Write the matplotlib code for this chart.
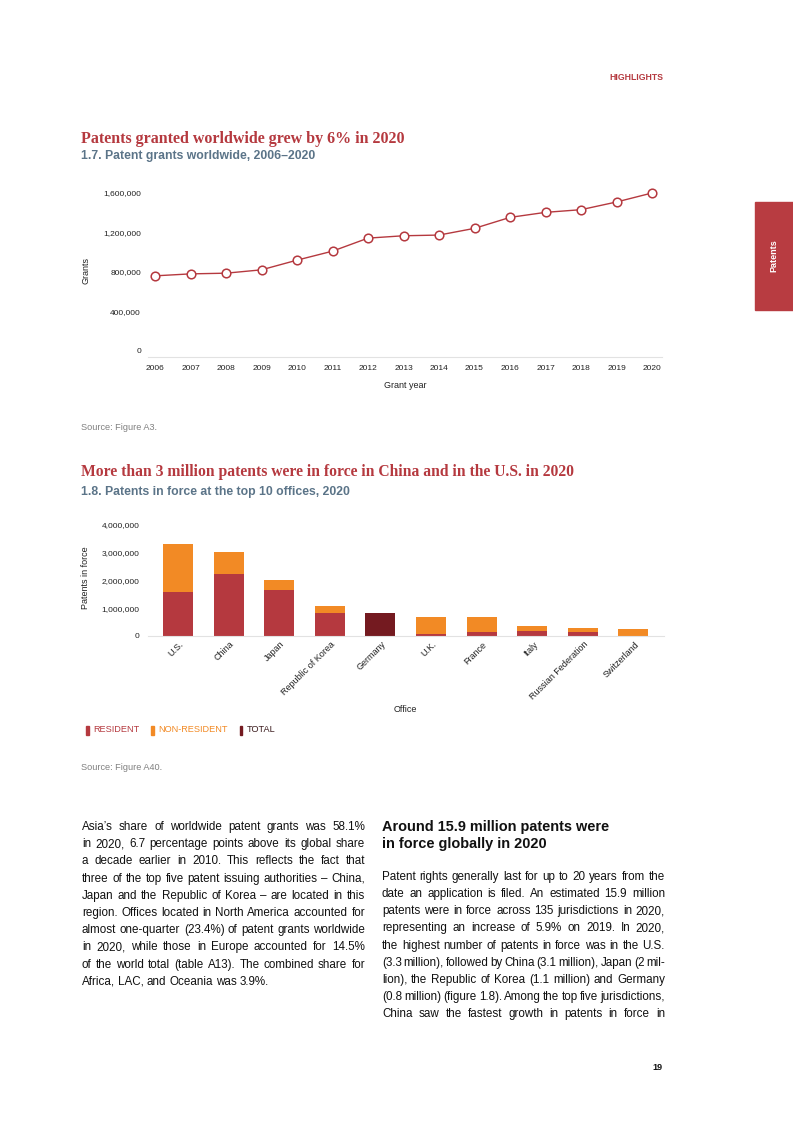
import matplotlib
matplotlib.use('Agg')
import matplotlib.pyplot as plt
from matplotlib.patches import Rectangle
from matplotlib.ticker import FuncFormatter
from matplotlib.transforms import ScaledTranslation

# ---------------- data ----------------
years = list(range(2006, 2021))
grants = [761000, 781000, 788000, 822000, 920000, 1011000, 1143000, 1167000,
          1174000, 1242000, 1353000, 1404000, 1431000, 1509000, 1600000]
line_ticks = [0, 400000, 800000, 1200000, 1600000]

offices = ["U.S.", "China", "Japan", "Republic of Korea", "Germany", "U.K.",
           "France", "Italy", "Russian Federation", "Switzerland"]
resident = [1590000, 2240000, 1640000, 820000, 0, 60000, 145000, 180000, 145000, 10000]
non_resident = [1740000, 800000, 380000, 260000, 0, 620000, 535000, 170000, 135000, 235000]
total_only = [0, 0, 0, 0, 820000, 0, 0, 0, 0, 0]
bar_ticks = [0, 1000000, 2000000, 3000000, 4000000]
legend_labels = ["RESIDENT", "NON-RESIDENT", "TOTAL"]

left_lines = [
    "Asia’s share of worldwide patent grants was 58.1%",
    "in 2020, 6.7 percentage points above its global share",
    "a decade earlier in 2010. This reflects the fact that",
    "three of the top five patent issuing authorities – China,",
    "Japan and the Republic of Korea – are located in this",
    "region. Offices located in North America accounted for",
    "almost one-quarter (23.4%) of patent grants worldwide",
    "in 2020, while those in Europe accounted for 14.5%",
    "of the world total (table A13). The combined share for",
    "Africa, LAC, and Oceania was 3.9%.",
]
right_heading = ["Around 15.9 million patents were", "in force globally in 2020"]
right_lines = [
    "Patent rights generally last for up to 20 years from the",
    "date an application is filed. An estimated 15.9 million",
    "patents were in force across 135 jurisdictions in 2020,",
    "representing an increase of 5.9% on 2019. In 2020,",
    "the highest number of patents in force was in the U.S.",
    "(3.3 million), followed by China (3.1 million), Japan (2 mil-",
    "lion), the Republic of Korea (1.1 million) and Germany",
    "(0.8 million) (figure 1.8). Among the top five jurisdictions,",
    "China saw the fastest growth in patents in force in",
]

# ---------------- style ----------------
RED = '#b5393f'
ORANGE = '#f28a25'
MAROON = '#741a20'
SLATE = '#5b7488'
TXT = '#222222'
SANS = ['Liberation Sans', 'DejaVu Sans']
SERIF = ['Liberation Serif', 'DejaVu Serif']
plt.rcParams['font.family'] = SANS

W, H = 793, 1122
fig = plt.figure(figsize=(W / 100, H / 100), dpi=100)
renderer = fig.canvas.get_renderer()


def fx(x):
    return x / W


def fy(y):
    return 1 - y / H


def fit_text(x, y, s, width, ha='left', **kw):
    t = fig.text(fx(x), fy(y), s, va='center', ha=ha, fontsize=10, **kw)
    bb = t.get_window_extent(renderer)
    t.set_fontsize(10 * width / bb.width)
    return t


def word_widths(words, size, **kw):
    ws = []
    for w_ in words:
        t = fig.text(0, 0, w_, fontsize=size, **kw)
        ws.append(t.get_window_extent(renderer).width)
        t.remove()
    return ws


def body_size(lines, width, min_gap_em=0.14, cap=9.3, **kw):
    best = cap
    for ln in lines:
        words = ln.split(' ')
        ws = word_widths(words, 10, **kw)
        nat = sum(ws) + (len(words) - 1) * min_gap_em * 10 * 100 / 72
        best = min(best, 10 * width / nat)
    return best


def justify(x0, y, line, width, size, last=False, **kw):
    words = line.split(' ')
    ws = word_widths(words, size, **kw)
    if last or len(words) == 1:
        gap = 0.25 * size * 100 / 72
    else:
        gap = (width - sum(ws)) / (len(words) - 1)
    x = x0
    for w_, wd in zip(words, ws):
        fig.text(fx(x), fy(y), w_, fontsize=size, va='center', ha='left', **kw)
        x += wd + gap


# ---------------- page furniture ----------------
fit_text(663, 77, "HIGHLIGHTS", 53, ha='right', color=RED, fontweight='bold')
fig.patches.append(Rectangle((fx(755), fy(310)), fx(793) - fx(755), fy(202) - fy(310),
                             transform=fig.transFigure, color='#b83c41', zorder=0))
fig.text(fx(774), fy(256), "Patents", rotation=90, color='white', fontweight='bold',
         fontsize=6.5, ha='center', va='center')

fit_text(81, 139, "Patents granted worldwide grew by 6% in 2020", 324,
         color=RED, fontweight='bold', family=SERIF)
fit_text(81, 156, "1.7. Patent grants worldwide, 2006–2020", 234,
         color=SLATE, fontweight='bold')

# ---------------- line chart ----------------
ax1 = fig.add_axes([fx(148), fy(357), (662 - 148) / W, (357 - 185) / H])
ax1.plot(years, grants, color=RED, lw=1.0, marker='o', ms=6.2, mfc='white',
         mec=RED, mew=1.1, zorder=3)
ppy = (652 - 155) / 14
ax1.set_xlim(2006 - 7 / ppy, 2020 + 10 / ppy)
ppv = (351 - 193) / 1600000
ax1.set_ylim(-6 / ppv, 1600000 + 8 / ppv)
ax1.set_xticks(years)
ax1.set_yticks(line_ticks)
ax1.yaxis.set_major_formatter(FuncFormatter(lambda v, p: f"{int(v):,}"))
ax1.tick_params(axis='both', length=0, labelsize=6, colors=TXT)
ax1.tick_params(axis='x', pad=6)
ax1.tick_params(axis='y', pad=5)
for s in ['top', 'right', 'left']:
    ax1.spines[s].set_visible(False)
ax1.spines['bottom'].set_color('#e2e2e2')
ax1.spines['bottom'].set_linewidth(0.8)
ax1.patch.set_alpha(0)
fig.text(fx(86), fy(271), "Grants", rotation=90, fontsize=6.5, color=TXT, ha='center', va='center')
fig.text(fx(405), fy(385), "Grant year", fontsize=6.5, color=TXT, ha='center', va='center')

fit_text(81, 427, "Source: Figure A3.", 76, color='#808080')

# ---------------- bar chart ----------------
fit_text(81, 472, "More than 3 million patents were in force in China and in the U.S. in 2020", 494,
         color=RED, fontweight='bold', family=SERIF)
fit_text(81, 492, "1.8. Patents in force at the top 10 offices, 2020", 269,
         color=SLATE, fontweight='bold')

ax2 = fig.add_axes([fx(148), fy(636), (663.5 - 148) / W, (636 - 519) / H])
idx = list(range(len(offices)))
bw = 30 / 50.6
ax2.bar(idx, resident, width=bw, color=RED, zorder=2)
ax2.bar(idx, non_resident, width=bw, bottom=resident, color=ORANGE, zorder=2)
ax2.bar(idx, total_only, width=bw, color=MAROON, zorder=2)
ax2.set_xlim(-30 / 50.6, len(offices) - 1 + 30 / 50.6)
bpv = (636 - 525) / 4000000
ax2.set_ylim(0, 117 / bpv)
ax2.set_yticks(bar_ticks)
ax2.yaxis.set_major_formatter(FuncFormatter(lambda v, p: f"{int(v):,}"))
ax2.set_xticks(idx)
ax2.set_xticklabels(offices, rotation=45, ha='right', va='center', rotation_mode='anchor')
ax2.tick_params(axis='both', length=0, labelsize=6, colors=TXT)
ax2.tick_params(axis='x', pad=5, labelsize=6.5)
ax2.tick_params(axis='y', pad=6)
shift = ScaledTranslation(4 / 100, 0, fig.dpi_scale_trans)
for lab in ax2.get_xticklabels():
    lab.set_transform(lab.get_transform() + shift)
for s in ['top', 'right', 'left']:
    ax2.spines[s].set_visible(False)
ax2.spines['bottom'].set_color('#e2e2e2')
ax2.spines['bottom'].set_linewidth(0.8)
ax2.patch.set_alpha(0)
fig.text(fx(86), fy(578), "Patents in force", rotation=90, fontsize=6.5, color=TXT, ha='center', va='center')
fig.text(fx(405), fy(710), "Office", fontsize=6.5, color=TXT, ha='center', va='center')

# legend
leg_x = [86, 151, 240]
leg_c = [RED, ORANGE, MAROON]
for lx, lab, c in zip(leg_x, legend_labels, leg_c):
    fig.patches.append(Rectangle((fx(lx), fy(734.5)), 2.5 / W, 9 / H,
                                 transform=fig.transFigure, color=c))
    fig.text(fx(lx + 7), fy(730), lab, fontsize=6.6,
             color=(c if c != MAROON else '#3a1a1c'), ha='left', va='center')

fit_text(81, 767, "Source: Figure A40.", 81, color='#808080')

# ---------------- body text ----------------
colw = 283
bs = body_size(left_lines[:-1] + right_lines, colw)
for i, ln in enumerate(left_lines):
    justify(82, 827 + i * 17.2, ln, colw, bs, last=(i == len(left_lines) - 1), color='#111111')

hd = fit_text(382, 827, right_heading[0], 227, color='#111111', fontweight='bold')
fig.text(fx(382), fy(844), right_heading[1], fontsize=hd.get_fontsize(), color='#111111',
         fontweight='bold', va='center', ha='left')
for i, ln in enumerate(right_lines):
    justify(382, 877 + i * 17.15, ln, colw, bs, color='#111111')

fig.text(fx(663), fy(1068), "19", fontsize=6.5, fontweight='bold', ha='right', va='center', color='#111111')

fig.savefig('out.png', dpi=100)
